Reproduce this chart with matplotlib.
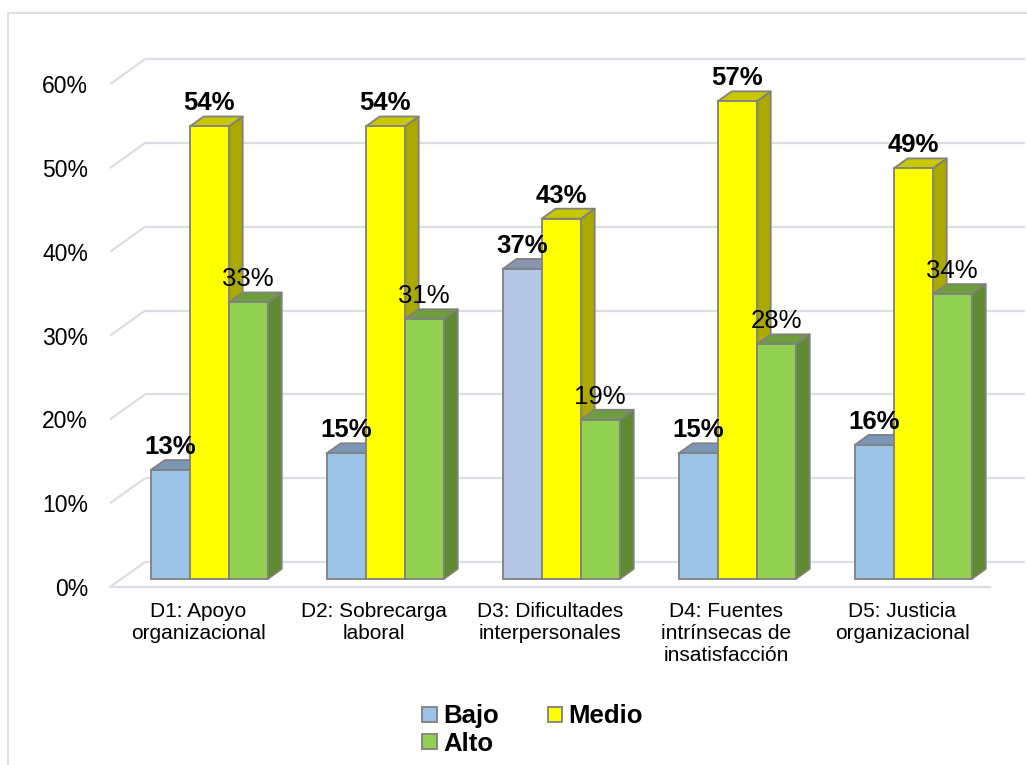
import matplotlib
matplotlib.use("Agg")
import matplotlib.pyplot as plt
from matplotlib.patches import Polygon, Patch, Rectangle

plt.rcParams["font.family"] = ["Liberation Sans", "DejaVu Sans"]

# --- data -------------------------------------------------------------
categories = [
    "D1: Apoyo\norganizacional",
    "D2: Sobrecarga\nlaboral",
    "D3: Dificultades\ninterpersonales",
    "D4: Fuentes\nintrínsecas de\ninsatisfacción",
    "D5: Justicia\norganizacional",
]
series_names = ["Bajo", "Medio", "Alto"]
bajo = [13, 15, 37, 15, 16]
medio = [54, 54, 43, 57, 49]
alto = [33, 31, 19, 28, 34]
y_ticks = [0, 10, 20, 30, 40, 50, 60]

# --- styling ----------------------------------------------------------
# (front, top, side) shades for each series
bajo_colors = ("#9DC3E6", "#7B96B6", "#6F88A6")
bajo_alt_colors = ("#B4C7E7", "#8795AF", "#77859E")   # D3 bar
medio_colors = ("#FFFF00", "#C8C800", "#A9A900")
alto_colors = ("#92D050", "#6E9E3E", "#5E8A32")
edge = "#808080"
grid_color = "#DADDE3"

# pseudo-3D geometry in data units (x: categories, y: percent)
DX, DY = 0.1989, 2.983        # offset of one full unit of depth
D_FRONT, D_BACK = 0.32, 0.72  # bar front / back faces in depth units
BAR_W = 0.2216

fig = plt.figure(figsize=(10.27, 7.65), dpi=100)
ax = fig.add_axes([0, 0, 1, 1])
ax.set_xlim(-1.125, 4.7102)
ax.set_ylim(-21.24, 70.05)
ax.axis("off")

# chart-area border
fig.patches.append(Rectangle((8 / 1027, -0.05), 1.2, 1 - 13 / 765 + 0.05,
                             transform=fig.transFigure, fill=False,
                             edgecolor="#D9D9D9", linewidth=1.2, zorder=0))

# walls: side-wall diagonals, back-wall gridlines, floor front edge
x0, x1 = -0.5, len(categories) - 0.5
for t in y_ticks:
    ax.plot([x0, x0 + DX], [t, t + DY], color=grid_color, lw=1.6, zorder=1,
            solid_capstyle="butt")
    ax.plot([x0 + DX, x1 + DX], [t + DY, t + DY], color=grid_color, lw=1.6,
            zorder=1, solid_capstyle="butt")
    ax.text(-0.625, t - 0.3, f"{t}%", ha="right", va="center", fontsize=16.5,
            color="#000000")
ax.plot([x0, x1], [0, 0], color=grid_color, lw=1.6, zorder=1)

# category labels
for i, lab in enumerate(categories):
    ax.text(i, -1.75, lab, ha="center", va="top", fontsize=15,
            multialignment="center", linespacing=1.22)

# bars
depth_x = (D_BACK - D_FRONT) * DX
depth_y = (D_BACK - D_FRONT) * DY
base = D_FRONT * DY
all_series = [
    (bajo, [bajo_colors, bajo_colors, bajo_alt_colors, bajo_colors, bajo_colors], True),
    (medio, [medio_colors] * 5, True),
    (alto, [alto_colors] * 5, False),
]
for s, (vals, cols, bold) in enumerate(all_series):
    z = 3 + 3 * s
    centers = [i + (s - 1) * BAR_W + D_FRONT * DX for i in range(len(vals))]
    ax.bar(centers, vals, width=BAR_W, bottom=base,
           color=[c[0] for c in cols], edgecolor=edge, linewidth=1.3,
           zorder=z + 2)
    for cx, v, c in zip(centers, vals, cols):
        xl, xr = cx - BAR_W / 2, cx + BAR_W / 2
        top = base + v
        side = Polygon([(xr, base), (xr + depth_x, base + depth_y),
                        (xr + depth_x, top + depth_y), (xr, top)],
                       closed=True, facecolor=c[2], edgecolor=edge,
                       linewidth=1.3, zorder=z, joinstyle="round")
        lid = Polygon([(xl, top), (xr, top), (xr + depth_x, top + depth_y),
                       (xl + depth_x, top + depth_y)],
                      closed=True, facecolor=c[1], edgecolor=edge,
                      linewidth=1.3, zorder=z + 1, joinstyle="round")
        ax.add_patch(side)
        ax.add_patch(lid)
        ax.text(cx, top + depth_y + 0.72, f"{v}%", ha="center",
                va="baseline", fontsize=18.5,
                fontweight="bold" if bold else "normal", zorder=20)

# legend
handles = {
    "Bajo": Patch(facecolor=bajo_colors[0], edgecolor=edge, linewidth=1.3),
    "Medio": Patch(facecolor=medio_colors[0], edgecolor=edge, linewidth=1.3),
    "Alto": Patch(facecolor=alto_colors[0], edgecolor=edge, linewidth=1.3),
}
order = ["Bajo", "Alto", "Medio"]
leg = ax.legend([handles[k] for k in order], order, ncol=2, loc="center",
                bbox_to_anchor=(532.5 / 1027, 1 - 730 / 765),
                bbox_transform=fig.transFigure, frameon=False,
                prop={"size": 18.5, "weight": "bold"},
                handlelength=0.55, handleheight=0.55, handletextpad=0.25,
                columnspacing=1.9, labelspacing=0.12, borderpad=0,
                borderaxespad=0)

fig.savefig("out.png", dpi=100)
